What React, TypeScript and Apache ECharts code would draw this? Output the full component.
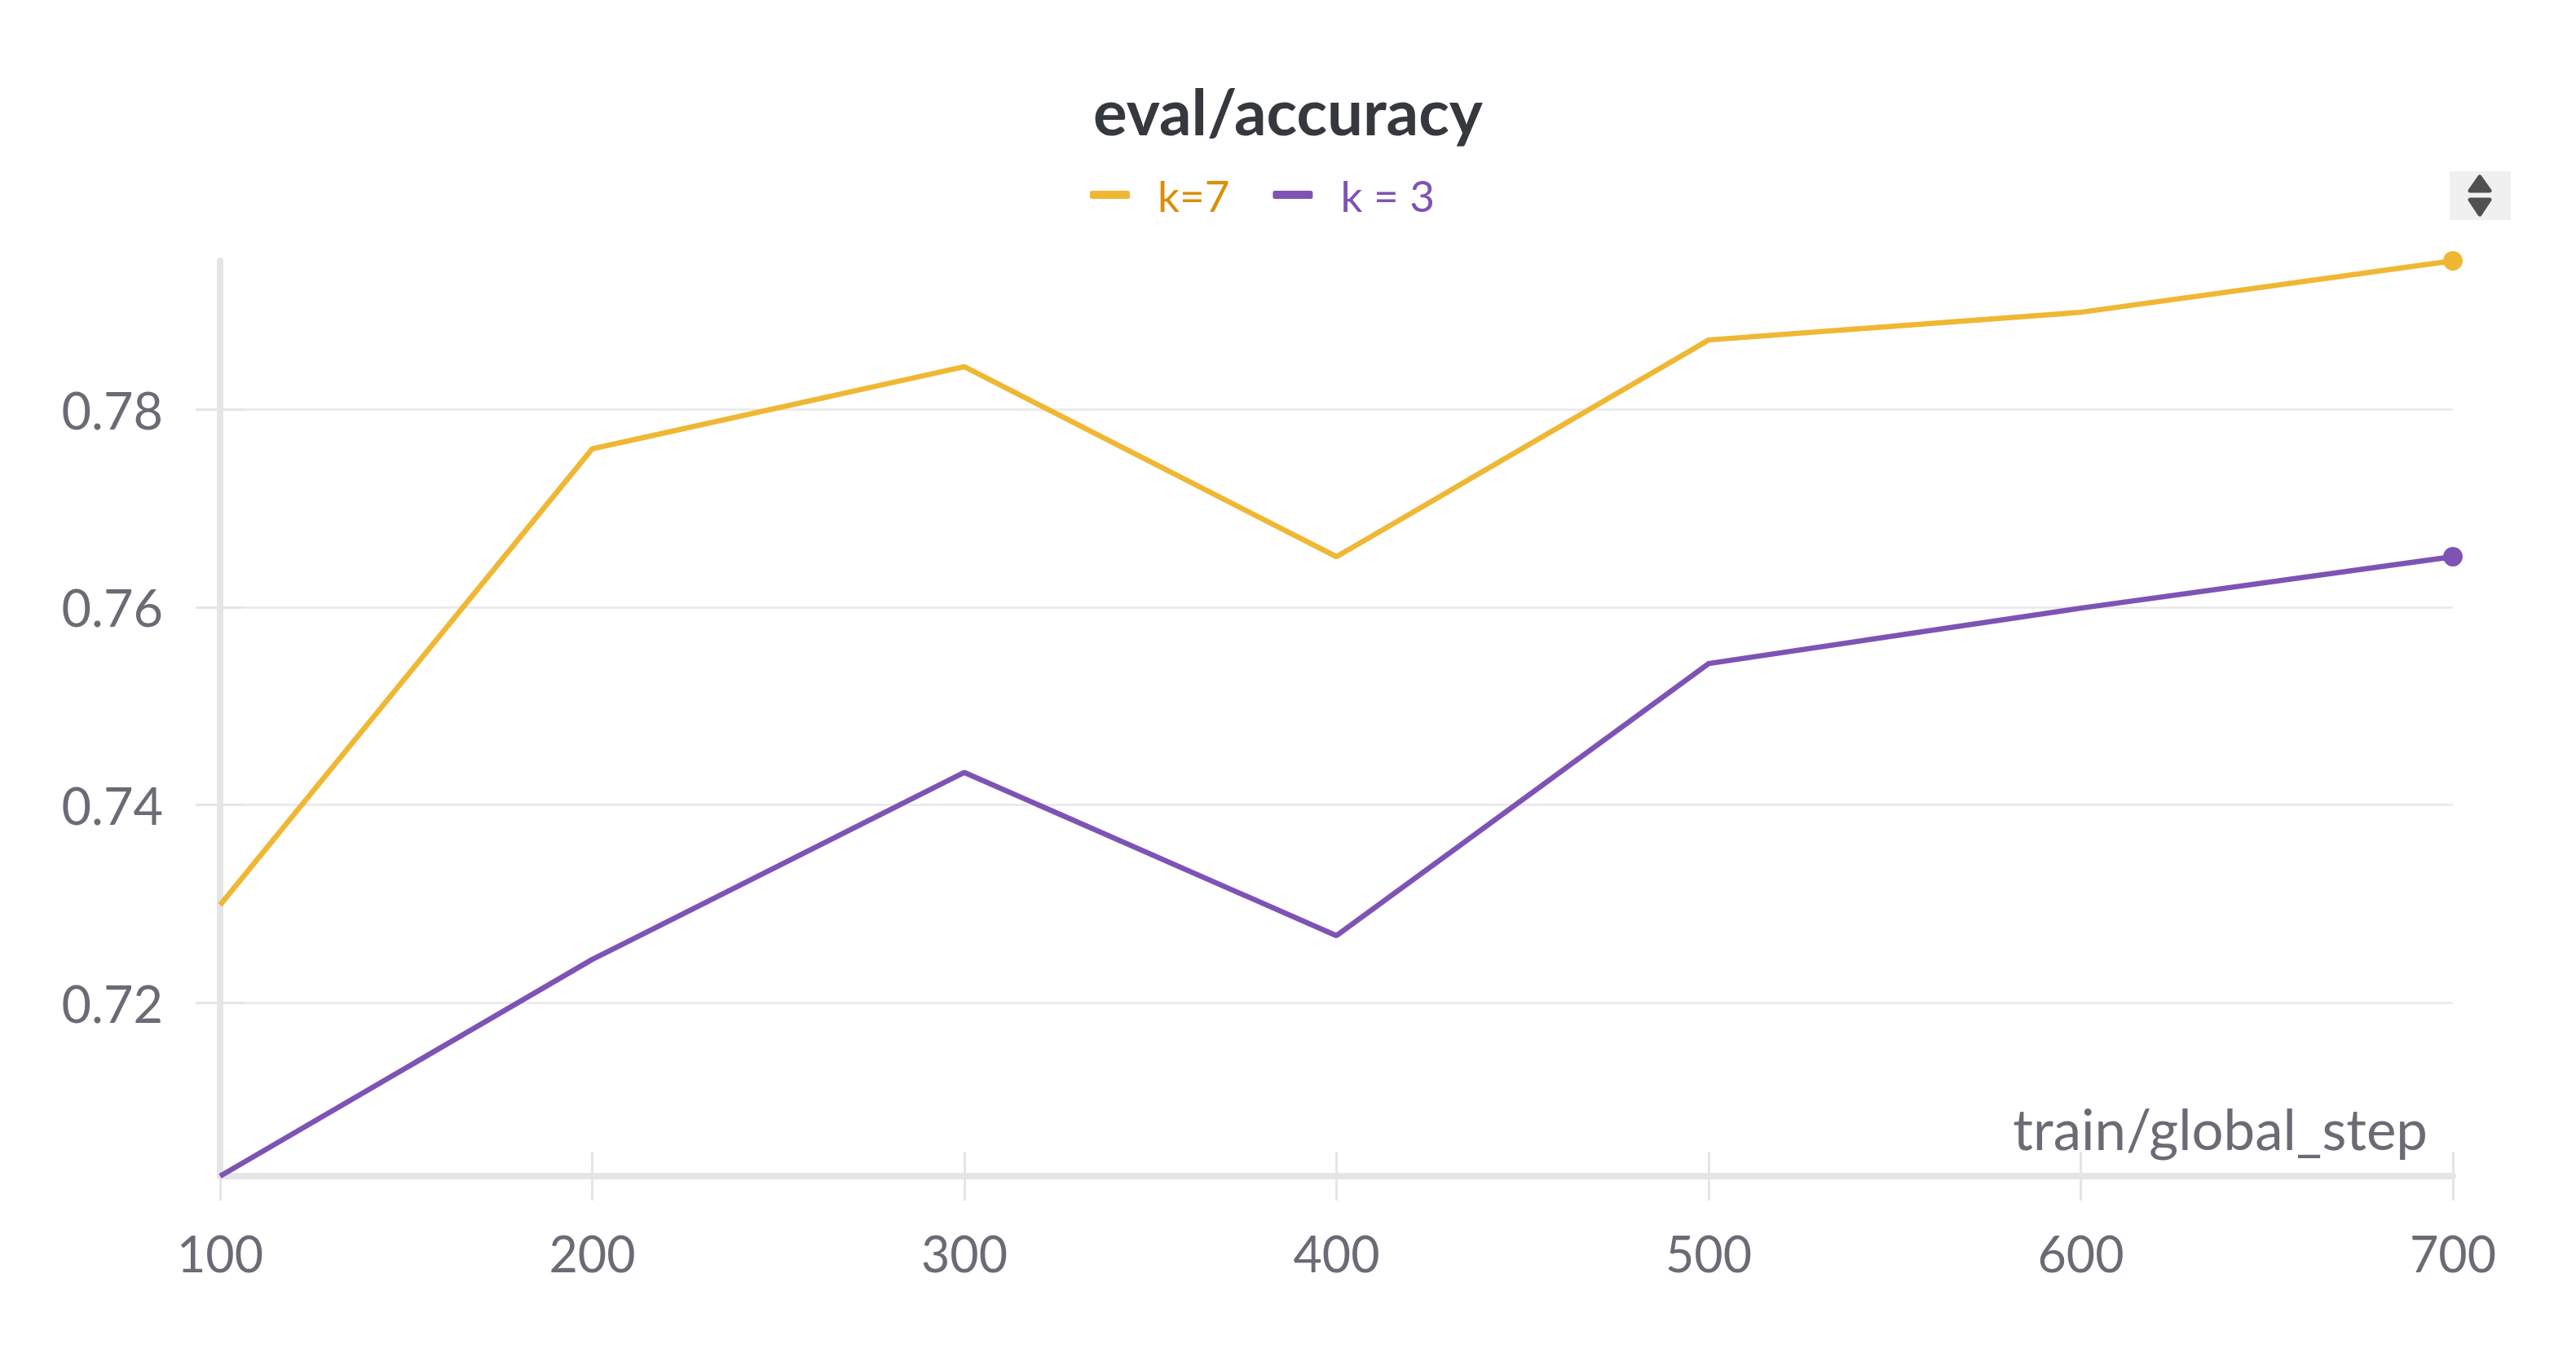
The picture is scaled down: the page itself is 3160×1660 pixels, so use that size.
import React, { useEffect, useRef } from "react";
import * as echarts from "echarts";

const steps = [100, 200, 300, 400, 500, 600, 700];
const k7Values = [0.7299, 0.776, 0.7843, 0.7651, 0.787, 0.7898, 0.795];
const k3Values = [0.7025, 0.7244, 0.7433, 0.7268, 0.7543, 0.7599, 0.7651];
const yTicks = [0.72, 0.74, 0.76, 0.78];
const seriesNames = ["k=7", "k = 3"];
const lineColors = ["#efb733", "#7e53b5"];
const legendTextColors = ["#db8e04", "#7e53b5"];

const FONT = "Lato";
const LABEL_COLOR = "#6b6b76";
const AXIS_COLOR = "#e5e5e8";

function toData(values: number[]) {
  const last = values.length - 1;
  return values.map((v, i) => ({
    value: [steps[i], v],
    symbol: i === last ? "circle" : "none",
    symbolSize: 24,
  }));
}

export default function App() {
  const ref = useRef<HTMLDivElement>(null);

  useEffect(() => {
    if (!ref.current) return;
    const chart = echarts.init(ref.current, undefined, { renderer: "svg" });
    const allVals = [...k7Values, ...k3Values];
    const yMin = Math.min(...allVals);
    const yMax = Math.max(...allVals);

    const tickCommon = { lineStyle: { color: AXIS_COLOR, width: 3 }, length: 30 };

    chart.setOption({
      animation: false,
      backgroundColor: "#ffffff",
      title: {
        text: "eval/accuracy",
        left: "center",
        top: 84,
        textStyle: {
          fontFamily: FONT,
          fontSize: 78,
          fontWeight: "bold",
          color: "#35383c",
          lineHeight: 94,
        },
      },
      legend: {
        left: 1332,
        top: 204,
        itemWidth: 49,
        itemHeight: 10,
        itemGap: 53,
        icon: "roundRect",
        data: seriesNames.map((n, i) => ({
          name: n,
          textStyle: { color: legendTextColors[i] },
        })),
        textStyle: {
          fontFamily: FONT,
          fontSize: 53,
          lineHeight: 60,
          padding: [0, 0, 0, 29],
        },
      },
      grid: {
        left: 270,
        right: 151,
        top: 320,
        bottom: 217,
        containLabel: false,
        outerBoundsMode: "none",
      },
      xAxis: [
        {
          type: "value",
          min: steps[0],
          max: steps[steps.length - 1],
          interval: 100,
          axisLine: { show: true, onZero: false, lineStyle: { color: AXIS_COLOR, width: 8 } },
          axisTick: { show: true, ...tickCommon },
          axisLabel: {
            fontFamily: FONT,
            fontSize: 61,
            color: LABEL_COLOR,
            margin: 64,
          },
          splitLine: { show: false },
        },
        {
          type: "value",
          position: "bottom",
          min: steps[0],
          max: steps[steps.length - 1],
          interval: 100,
          axisLine: { show: false },
          axisTick: { show: true, inside: true, ...tickCommon },
          axisLabel: { show: false },
          splitLine: { show: false },
        },
      ],
      yAxis: [
        {
          type: "value",
          min: yMin,
          max: yMax,
          axisLine: { show: true, onZero: false, lineStyle: { color: AXIS_COLOR, width: 8 } },
          axisTick: { show: true, customValues: yTicks, ...tickCommon },
          axisLabel: {
            customValues: yTicks,
            fontFamily: FONT,
            fontSize: 63,
            color: LABEL_COLOR,
            margin: 70,
            formatter: (v: number) => v.toFixed(2),
          },
          splitLine: { show: true, lineStyle: { color: "#e8e8ea", width: 2.5 } },
        },
        {
          type: "value",
          position: "left",
          min: yMin,
          max: yMax,
          axisLine: { show: false },
          axisTick: { show: true, inside: true, customValues: yTicks, ...tickCommon },
          axisLabel: { show: false },
          splitLine: { show: false },
        },
      ],
      series: [
        {
          name: seriesNames[0],
          type: "line",
          data: toData(k7Values),
          showSymbol: true,
          symbol: "circle",
          color: lineColors[0],
          lineStyle: { width: 6.5, color: lineColors[0] },
          itemStyle: { color: lineColors[0] },
          z: 3,
        },
        {
          name: seriesNames[1],
          type: "line",
          data: toData(k3Values),
          showSymbol: true,
          symbol: "circle",
          color: lineColors[1],
          lineStyle: { width: 6.5, color: lineColors[1] },
          itemStyle: { color: lineColors[1] },
          z: 3,
        },
      ],
      graphic: [
        {
          type: "text",
          right: 3160 - 2978,
          top: 1350,
          style: {
            text: "train/global_step",
            fontFamily: FONT,
            fontSize: 69,
            fill: LABEL_COLOR,
          },
        },
        {
          type: "group",
          children: [
            { type: "rect", shape: { x: 3005, y: 210, width: 75, height: 60 }, style: { fill: "#f0f0f0" } },
            {
              type: "polygon",
              shape: { points: [[3042, 217], [3054, 234], [3030, 234]] },
              style: { fill: "#505050", stroke: "#505050", lineWidth: 5, lineJoin: "round" },
            },
            {
              type: "polygon",
              shape: { points: [[3030, 245], [3054, 245], [3042, 263]] },
              style: { fill: "#505050", stroke: "#505050", lineWidth: 5, lineJoin: "round" },
            },
          ],
        },
      ],
    });
    return () => chart.dispose();
  }, []);

  return <div ref={ref} style={{ width: 3160, height: 1660, margin: -8 }} />;
}
